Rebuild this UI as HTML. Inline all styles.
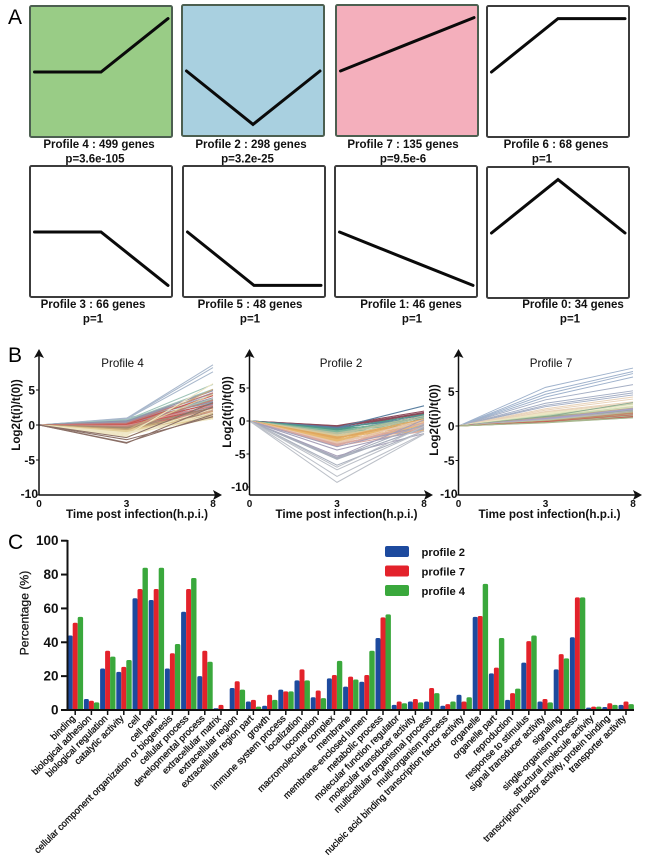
<!DOCTYPE html>
<html lang="en">
<head>
<meta charset="utf-8">
<title>Gene expression profiles and GO categories</title>
<style>
html,body{margin:0;padding:0;background:#fff;width:650px;height:868px;overflow:hidden}
svg{display:block;font-family:"Liberation Sans",Arial,sans-serif;filter:blur(0.3px)}
</style>
</head>
<body>
<svg id="fig" xmlns="http://www.w3.org/2000/svg" width="650" height="868" viewBox="0 0 650 868">
  <text x="8" y="24" font-size="21">A</text>
  <text x="8" y="362" font-size="21">B</text>
  <text x="8" y="549" font-size="21">C</text>
  <g id="panelA"></g>
  <g id="panelB"></g>
  <g id="panelC"></g>
</svg>
<script>
// ---------- Panel A data ----------
const profileNames = ["Profile 4 : 499 genes","Profile 2 : 298 genes","Profile 7 : 135 genes","Profile 6 : 68 genes","Profile 3 : 66 genes","Profile 5 : 48 genes","Profile 1: 46 genes","Profile 0: 34 genes"];
const profilePvalues = ["p=3.6e-105","p=3.2e-25","p=9.5e-6","p=1","p=1","p=1","p=1","p=1"];
const profileShapeMid = [0,-2,1,2,0,-2,-1,2];
const profileShapeEnd = [2,0,2,2,-2,-2,-2,0];

// ---------- Panel B data ----------
const profile4Colors = ["#a9b8cc","#9fc4b8","#8e93ad","#9a96a8","#c47a78","#c9544f","#d98f8f","#b98a78","#a08a70","#c9a878","#e3cf9a","#efe6c4","#8a6f66"];
const profile2Colors = ["#8c4a5a","#5a7fa0","#4f9a8a","#7fb59a","#b8c0a0","#d9c89a","#e0a860","#e8b870","#e8c8b0","#d9a8a0","#a6a0b8","#a8aebc","#bcc0c8"];
const profile7Colors = ["#9fb2cc","#a4aec4","#e8d2b8","#ece6c4","#c8dab0","#8aa890","#b9a890","#a6a0c9","#b9b3c0","#b8c8a0","#c08a6a","#c9544f","#a8b890"];
const profile4Mid = [1,0.95,0.9,0.85,0.8,0.75,0.7,0.7,0.65,0.6,0.6,0.55,0.5,0.5,0.45,0.4,0.4,0.35,0.3,0.3,0.25,0.2,0.2,0.15,0.1,0.1,0.05,0,0,0,-0.05,-0.1,-0.1,-0.15,-0.2,-0.2,-0.25,-0.3,-0.3,-0.35,-0.4,-0.45,-0.5,-0.5,-0.55,-0.6,-0.65,-0.7,-0.7,-0.75,-0.8,-0.85,-0.9,-1,-1,-1.1,-1.2,-1.35,-1.5,-1.65,-1.8,-2.1,-2.5,-2.6];
const profile4End = [3.4,8.6,8.2,7.6,4.2,3.6,5.8,3.2,5.1,3.7,2.9,4.9,2.6,4.5,3.3,3.9,2.4,5,2.2,3,4.6,2,3.5,1.8,2.7,4.2,1.6,2.4,1.4,3.1,1.9,1.2,2.8,1.5,1,2.2,1.3,1.1,3.6,0.9,1.7,1.2,1,2.5,1.5,0.9,1.3,2,1.1,5.1,0.9,1.6,1,1.2,4.4,1.4,0.9,2.3,5.9,1.8,3.2,1.2,1.5,2.6];
const profile2Mid = [-0.7,-0.75,-0.8,-0.85,-0.9,-0.95,-1,-1.05,-1.1,-1.2,-1.25,-1.3,-1.4,-1.5,-1.55,-1.6,-1.7,-1.75,-1.8,-1.9,-1.95,-2,-2.1,-2.15,-2.2,-2.3,-2.4,-2.5,-2.55,-2.6,-2.7,-2.8,-2.9,-3,-3.1,-3.2,-3.3,-3.35,-3.4,-3.5,-3.55,-3.6,-3.7,-3.8,-3.9,-4.4,-5.3,-5.5,-5.6,-5.7,-5.8,-6.7,-7,-7.4,-8.4,-9.3];
const profile2End = [1.5,1.2,0.8,1.3,1.1,0.3,2.3,0.6,0.9,-0.2,1,0.1,0.4,-0.4,0.7,0,0.5,-0.6,0.2,-0.8,0.8,0.5,-1,-0.3,0.1,-0.5,-1.2,-0.7,0.3,0,-1.3,-0.2,-0.9,-1.4,-0.6,-0.1,-1.6,-0.4,0.2,-1.1,-0.8,-1,-0.3,-1.5,-0.7,-1.2,-1.9,0.2,-0.5,-1.1,-1,-1.5,-0.8,-1.5,-1.9,-2];
const profile7Mid = [5.6,5,4.6,4.2,3.8,3.3,3,2.8,2.5,2.3,2.1,2,1.9,1.8,1.7,1.6,1.55,1.5,1.45,1.4,1.4,1.35,1.3,1.25,1.2,1.2,1.15,1.1,1.05,1,1,0.95,0.9,0.9,0.85,0.8,0.8,0.8,0.75,0.7,0.7,0.65,0.6,0.6,0.6,0.55,0.5,0.5,0.5,0.45];
const profile7End = [8.4,7.9,7.6,7.1,6,5.1,4.8,4.5,4.2,3.9,3.5,3.3,3.1,2.9,2.7,2.6,3.2,2.5,2.4,2.8,2.3,3.4,2.2,2.1,2.6,2,2,2.4,1.9,1.8,2.5,1.8,1.7,2.2,1.7,1.6,2,1.6,1.5,1.9,1.5,1.4,1.8,1.4,1.3,1.6,1.3,1.2,1.5,1.2];
const timeTicks = [0,3,8];
const valueTicks = [5,0,-5,-10];

// ---------- Panel C data ----------
const goCategories = ["binding","biological adhesion","biological regulation","catalytic activity","cell","cell part","cellular component organization or biogenesis","cellular process","developmental process","extracellular matrix","extracellular region","extracellular region part","growth","immune system process","localization","locomotion","macromolecular complex","membrane","membrane-enclosed lumen","metabolic process","molecular function regulator","molecular transducer activity","multicellular organismal process","multi-organism process","nucleic acid binding transcription factor activity","organelle","organelle part","reproduction","response to stimulus","signal transducer activity","signaling","single-organism process","structural molecule activity","transcription factor activity, protein binding","transporter activity"];
const profile2Values = [44,6.5,24.5,22.5,66,65,24.5,58,20,1,13,5,2.5,12,17.5,7.5,18.7,13.8,16.7,42.5,3,5,5,2.5,9,55,21.6,6,28,5,24,43,1.4,1.8,3];
const profile7Values = [51.5,5.5,35,25.5,71.5,71.5,33.5,71.5,35,3,17,6,9,11,24,11.5,20.7,19.7,20.7,54.7,5,6.5,13,3.5,5,55.5,25,10,40.7,6.5,33,66.5,2,4,5];
const profile4Values = [55,4.5,31.5,29.5,84,84,39,78,28.5,0,12,2,6,11,17.5,7,29,18,35,56.5,4,4.5,10,5,7.5,74.5,42.5,12.6,44,4.5,30.5,66.5,2,3,3.5];
const percentTicks = [0,20,40,60,80,100];
const legendLabels = ["profile 2","profile 7","profile 4"];

const NS = "http://www.w3.org/2000/svg";
function make(tag, attrs, parent, txt){
  const n = document.createElementNS(NS, tag);
  for (const k in attrs) n.setAttribute(k, attrs[k]);
  if (txt !== undefined) n.textContent = txt;
  parent.appendChild(n);
  return n;
}

// ---------- Panel A ----------
const panelA = document.getElementById("panelA");
const boxX = [30,182,336,487,30,183,335,487];
const boxY = [6,5,5,6,166,166,166,167];
const boxFill = ["#99cc86","#a9d0e0","#f4afbc","#fff","#fff","#fff","#fff","#fff"];
const capX = [99,251,403,556,93,250,411,573];
const pX = [95,247.5,403,542,93,250,412,570];
const unitY = 26.7;
for (let i = 0; i < profileNames.length; i++){
  const g = make("g", {}, panelA);
  
  
  const box = make("rect", {x:boxX[i],y:boxY[i],width:142,height:131,rx:1.5,fill:boxFill[i],stroke:i<3?"#4c5f50":"#3c3c3c","stroke-width":2}, g);
  
  
  const x0 = boxX[i]+4.5, xm = boxX[i]+71, x1 = boxX[i]+138, yb = boxY[i]+66;
  const pts = [[x0,yb],[xm,yb-profileShapeMid[i]*unitY],[x1,yb-profileShapeEnd[i]*unitY]];
  const line = make("polyline", {points:pts.map(p=>p.join(",")).join(" "),fill:"none",stroke:"#0a0a0a","stroke-width":3,"stroke-linejoin":"miter","stroke-linecap":"round"}, g);
  
  
  const baseY = i < 4 ? 148 : 308;
  const cap = make("text", {x:capX[i],y:baseY,"text-anchor":"middle","font-size":11.5,"font-weight":"bold",fill:"#111"}, g, profileNames[i]);
  
  
  const pv = make("text", {x:pX[i],y:baseY+14.5,"text-anchor":"middle","font-size":11.5,"font-weight":"bold",fill:"#111"}, g, profilePvalues[i]);
  
  
}

// ---------- Panel B ----------
const panelB = document.getElementById("panelB");
function drawSeriesChart(cfg){
  const g = make("g", {}, panelB);
  
  
  const sx = t => cfg.x0 + t*(cfg.x8-cfg.x0)/8;
  const sy = v => cfg.y0 - v*cfg.unit;
  const n = cfg.mid.length;
  for (let i = 0; i < n; i++){
    const color = cfg.colors[Math.floor(i/n*cfg.colors.length)];
    const l = make("polyline", {points:sx(0)+","+sy(0)+" "+cfg.x3+","+sy(cfg.mid[i])+" "+sx(8)+","+sy(cfg.end[i]),fill:"none",stroke:color,"stroke-width":cfg.width}, g);
    
    
  }
  const yaxis = make("line", {x1:cfg.x0,y1:355,x2:cfg.x0,y2:495,stroke:"#111","stroke-width":1.5}, g);
  
  
  const xaxis = make("line", {x1:cfg.x0,y1:495,x2:cfg.x8+4,y2:495,stroke:"#111","stroke-width":1.5}, g);
  
  
  const upArrow = make("polygon", {points:[cfg.x0,349,cfg.x0+5,358,cfg.x0,356,cfg.x0-5,358].join(" "),fill:"#111"}, g);
  
  
  const ax = cfg.x8+9;
  const rightArrow = make("polygon", {points:[ax,495,ax-9,490,ax-7,495,ax-9,500].join(" "),fill:"#111"}, g);
  
  
  for (const v of valueTicks){
    const ty = sy(v);
    const tk = make("line", {x1:cfg.x0-3,y1:ty,x2:cfg.x0,y2:ty,stroke:"#111","stroke-width":1}, g);
    
    
    const lb = make("text", {x:cfg.x0-(v===-10?1:4),y:v===-10?cfg.tenY:ty+4.5,"text-anchor":"end","font-size":12,"font-weight":"bold",fill:"#111"}, g, v);
    
    
  }
  for (const t of timeTicks){
    const tx = t===3 ? cfg.x3 : sx(t);
    const lb = make("text", {x:tx,y:507,"text-anchor":"middle","font-size":10,"font-weight":"bold",fill:"#111"}, g, t);
    
    
  }
  const title = make("text", {x:cfg.titleX,y:367,"text-anchor":"middle","font-size":11.6,fill:"#111"}, g, cfg.title);
  
  
  const xt = make("text", {x:cfg.xTitleX,y:518,"text-anchor":"middle","font-size":11.7,"font-weight":"bold",fill:"#111"}, g, "Time post infection(h.p.i.)");
  
  
  const yt = make("text", {x:0,y:0,transform:"translate("+cfg.yTitleX+","+cfg.yTitleY+") rotate(-90)","text-anchor":"middle","font-size":11.6,"font-weight":"bold",fill:"#111"}, g, "Log2(t(i)/t(0))");
  
  
}
drawSeriesChart({title:"Profile 4",mid:profile4Mid,end:profile4End,colors:profile4Colors,width:1.05,tenY:498,x0:39,x3:126.5,x8:213,y0:425,unit:7,titleX:122.5,xTitleX:137,yTitleX:20,yTitleY:415});
drawSeriesChart({title:"Profile 2",mid:profile2Mid,end:profile2End,colors:profile2Colors,width:1.05,tenY:491,x0:249.5,x3:337,x8:424,y0:421,unit:6.6,titleX:341,xTitleX:346.5,yTitleX:231,yTitleY:412});
drawSeriesChart({title:"Profile 7",mid:profile7Mid,end:profile7End,colors:profile7Colors,width:0.95,tenY:498,x0:458.5,x3:545.5,x8:633,y0:426,unit:6.9,titleX:551,xTitleX:549.5,yTitleX:438,yTitleY:420});

// ---------- Panel C ----------
const panelC = document.getElementById("panelC");
const chartY0 = 710, chartUnit = 1.693, groupX0 = 75.2, groupStep = 16.2, barW = 5;
const barSeries = [profile2Values, profile7Values, profile4Values];
const barColors = ["#1d4a9e","#e3222b","#3aa83c"];
const barNames = ["bar-profile-2","bar-profile-7","bar-profile-4"];
const sv = v => chartY0 - v*chartUnit;
const sc = i => groupX0 + i*groupStep;
for (let s = 0; s < 3; s++){
  for (let i = 0; i < goCategories.length; i++){
    const v = barSeries[s][i];
    if (v <= 0) continue;
    const x = sc(i) - 7.5 + s*barW, y = sv(v), r = Math.min(1.6, (chartY0-y)/2);
    const d = "M"+x+" "+chartY0+"V"+(y+r)+"Q"+x+" "+y+" "+(x+r)+" "+y+"H"+(x+barW-r+(s===2?0.4:0))+"Q"+(x+barW+(s===2?0.4:0))+" "+y+" "+(x+barW+(s===2?0.4:0))+" "+(y+r)+"V"+chartY0+"Z";
    const b = make("path", {d:d,fill:barColors[s]}, panelC);
    
    
  }
}
const cy = make("line", {x1:67.5,y1:540,x2:67.5,y2:711,stroke:"#111","stroke-width":2}, panelC);


const cx = make("line", {x1:61,y1:710,x2:634,y2:710,stroke:"#111","stroke-width":2}, panelC);


for (const t of percentTicks){
  const tk = make("line", {x1:61,y1:sv(t),x2:67.5,y2:sv(t),stroke:"#111","stroke-width":2}, panelC);
  
  
  const lb = make("text", {x:58.5,y:sv(t)+4.5,"text-anchor":"end","font-size":13.5,"font-weight":"bold",fill:"#111"}, panelC, t);
  
  
}
const pct = make("text", {x:0,y:0,transform:"translate(28.5,613) rotate(-90)","text-anchor":"middle","font-size":12.2,fill:"#111",stroke:"#111","stroke-width":0.25}, panelC, "Percentage (%)");


for (let i = 0; i < goCategories.length; i++){
  const tk = make("line", {x1:sc(i),y1:710,x2:sc(i),y2:715,stroke:"#111","stroke-width":1.5}, panelC);
  
  
  const lb = make("text", {x:0,y:0,transform:"translate("+(sc(i)+0.5)+",719) rotate(-45)","text-anchor":"end","font-size":9.4,fill:"#111",stroke:"#111","stroke-width":0.3}, panelC, goCategories[i]);
  
  
}
for (let s = 0; s < 3; s++){
  const y = 546 + s*19.5;
  const sw = make("rect", {x:385,y:y,width:24,height:11,rx:2,fill:barColors[s]}, panelC);
  
  
  const lb = make("text", {x:421.5,y:y+10,"font-size":11.2,"font-weight":"bold",fill:"#111"}, panelC, legendLabels[s]);
  
  
}
</script>
</body>
</html>
